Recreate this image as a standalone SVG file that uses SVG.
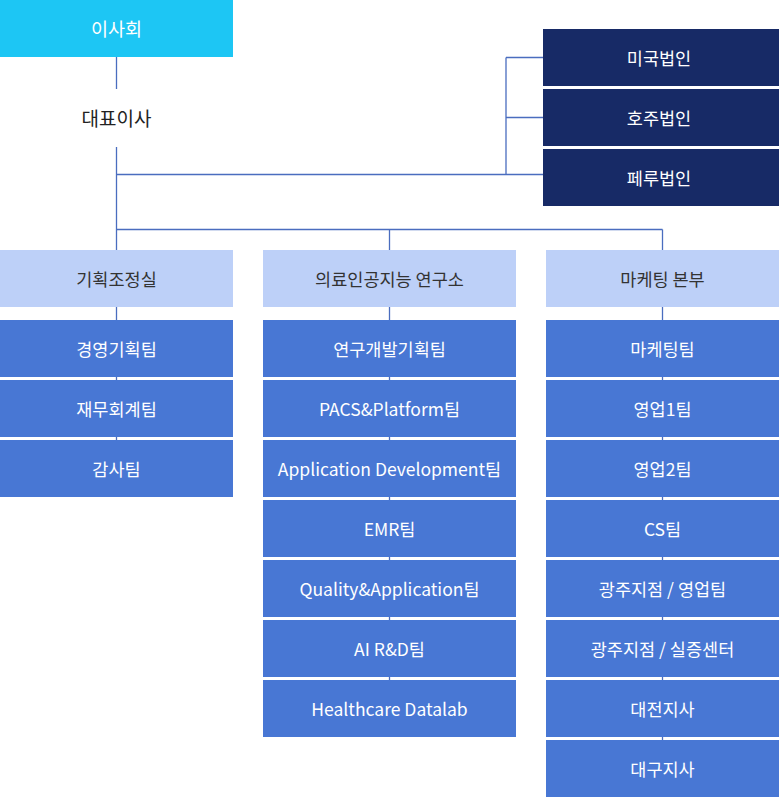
<svg xmlns="http://www.w3.org/2000/svg" width="779" height="797" viewBox="0 0 779 797">
<style>
text{font-family:"Noto Sans CJK KR","Noto Sans",sans-serif;font-size:17.5px;text-anchor:middle;dominant-baseline:central}
.big{font-size:18.5px}
.ceo{font-size:19px}
.board{fill:#1dc6f4}
.sub{fill:#172a66}
.hd{fill:#bdd0f8}
.tm{fill:#4877d4}
.w{fill:#ffffff}
.d{fill:#333333}
.ln{stroke:#4a6dbf;stroke-width:1.3;fill:none}
</style>
<rect width="779" height="797" fill="#ffffff"/>
<g id="connectors">
<path class="ln" d="M116.5 57V89M116.5 147V440M116.5 174.5H543M506 57.5V174.5M506 57.5H543M506 117.5H543M116.5 229.5H662.5M389.5 229.5V680M662.5 229.5V740"/>
</g>
<g id="board"><rect class="board" x="0" y="0" width="233" height="57"/><text class="w big" x="116.5" y="27.5">이사회</text></g>
<g id="ceo"><text class="ceo" x="116.5" y="117" fill="#222222">대표이사</text></g>
<g id="us"><rect class="sub" x="543" y="29" width="236" height="57"/><text class="w" x="659" y="57">미국법인</text></g>
<g id="au"><rect class="sub" x="543" y="89" width="236" height="57"/><text class="w" x="659" y="117">호주법인</text></g>
<g id="pe"><rect class="sub" x="543" y="149" width="236" height="57"/><text class="w" x="659" y="177">페루법인</text></g>
<g id="plan"><rect class="hd" x="0" y="250" width="233" height="57"/><text class="d" x="116.5" y="278">기획조정실</text></g>
<g id="lab"><rect class="hd" x="263" y="250" width="253" height="57"/><text class="d" x="389.5" y="278">의료인공지능 연구소</text></g>
<g id="mkt"><rect class="hd" x="546" y="250" width="233" height="57"/><text class="d" x="662.5" y="278">마케팅 본부</text></g>
<g id="t1"><rect class="tm" x="0" y="320" width="233" height="57"/><text class="w" x="116.5" y="348">경영기획팀</text></g>
<g id="t2"><rect class="tm" x="0" y="380" width="233" height="57"/><text class="w" x="116.5" y="408">재무회계팀</text></g>
<g id="t3"><rect class="tm" x="0" y="440" width="233" height="57"/><text class="w" x="116.5" y="468">감사팀</text></g>
<g id="m1"><rect class="tm" x="263" y="320" width="253" height="57"/><text class="w" x="389.5" y="348">연구개발기획팀</text></g>
<g id="m2"><rect class="tm" x="263" y="380" width="253" height="57"/><text class="w" x="389.5" y="408">PACS&amp;Platform팀</text></g>
<g id="m3"><rect class="tm" x="263" y="440" width="253" height="57"/><text class="w" x="389.5" y="468">Application Development팀</text></g>
<g id="m4"><rect class="tm" x="263" y="500" width="253" height="57"/><text class="w" x="389.5" y="528">EMR팀</text></g>
<g id="m5"><rect class="tm" x="263" y="560" width="253" height="57"/><text class="w" x="389.5" y="588">Quality&amp;Application팀</text></g>
<g id="m6"><rect class="tm" x="263" y="620" width="253" height="57"/><text class="w" x="389.5" y="648">AI R&amp;D팀</text></g>
<g id="m7"><rect class="tm" x="263" y="680" width="253" height="57"/><text class="w" x="389.5" y="708">Healthcare Datalab</text></g>
<g id="r1"><rect class="tm" x="546" y="320" width="233" height="57"/><text class="w" x="662.5" y="348">마케팅팀</text></g>
<g id="r2"><rect class="tm" x="546" y="380" width="233" height="57"/><text class="w" x="662.5" y="408">영업1팀</text></g>
<g id="r3"><rect class="tm" x="546" y="440" width="233" height="57"/><text class="w" x="662.5" y="468">영업2팀</text></g>
<g id="r4"><rect class="tm" x="546" y="500" width="233" height="57"/><text class="w" x="662.5" y="528">CS팀</text></g>
<g id="r5"><rect class="tm" x="546" y="560" width="233" height="57"/><text class="w" x="662.5" y="588">광주지점 / 영업팀</text></g>
<g id="r6"><rect class="tm" x="546" y="620" width="233" height="57"/><text class="w" x="662.5" y="648">광주지점 / 실증센터</text></g>
<g id="r7"><rect class="tm" x="546" y="680" width="233" height="57"/><text class="w" x="662.5" y="708">대전지사</text></g>
<g id="r8"><rect class="tm" x="546" y="740" width="233" height="57"/><text class="w" x="662.5" y="768">대구지사</text></g>
</svg>
